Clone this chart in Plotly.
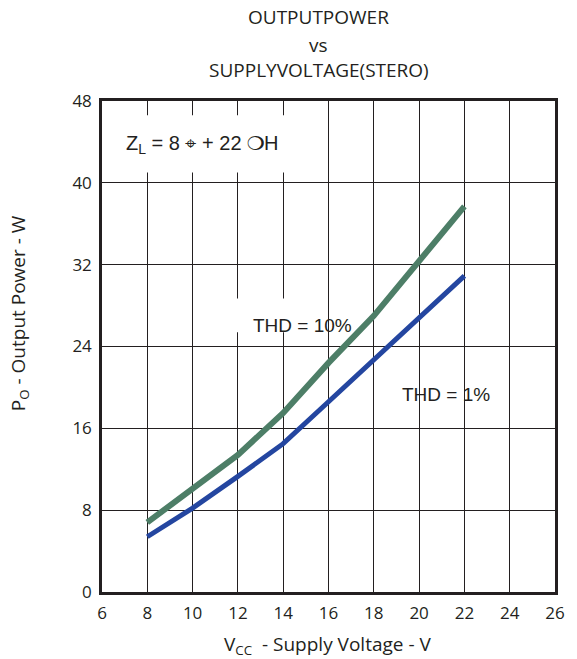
import plotly.graph_objects as go

# supply voltage (V) and output power (W)
vcc = [8, 10, 12, 14, 16, 18, 20, 22]
po_thd10 = [6.8, 10.1, 13.4, 17.5, 22.4, 27.0, 32.3, 37.7]
po_thd1 = [5.4, 8.2, 11.3, 14.5, 18.6, 22.7, 26.8, 30.9]

x_ticks = [6, 8, 10, 12, 14, 16, 18, 20, 22, 24, 26]
y_ticks = [0, 8, 16, 24, 32, 40, 48]

INK = "#231f20"

fig = go.Figure()

fig.add_trace(go.Scatter(
    x=vcc, y=po_thd10, mode="lines",
    line=dict(color="#4d7e67", width=6),
    name="THD = 10%"
))
fig.add_trace(go.Scatter(
    x=vcc, y=po_thd1, mode="lines",
    line=dict(color="#2446a0", width=5),
    name="THD = 1%"
))

# white label boxes sitting over the grid
fig.add_shape(type="rect", x0=6.6, x1=14.3, y0=41.0, y1=46.6,
              fillcolor="white", line=dict(width=0), layer="between")
fig.add_shape(type="rect", x0=10.2, x1=15.7, y0=25.4, y1=28.7,
              fillcolor="white", line=dict(width=0), layer="between")

label_font = dict(family="Liberation Sans, Arial", size=19, color=INK)
fig.add_annotation(x=10.45, y=43.7, text="Z<sub>L</sub> = 8 ⌖ + 22 ❍H",
                   showarrow=False, font=dict(label_font, size=20))
fig.add_annotation(x=14.85, y=26.1, text="THD = 10%",
                   showarrow=False, font=label_font)
fig.add_annotation(x=21.2, y=19.3, text="THD = 1%",
                   showarrow=False, font=label_font)

# title, three lines
title_font = dict(family="Open Sans", size=19, color=INK)
for txt, yy in [("OUTPUTPOWER", 1.171), ("vs", 1.114), ("SUPPLYVOLTAGE(STERO)", 1.063)]:
    fig.add_annotation(x=0.479, y=yy, xref="paper", yref="paper", text=txt,
                       xanchor="center", yanchor="middle",
                       showarrow=False, font=title_font)

tick_font = dict(family="Open Sans", size=17, color=INK)
axis_font = dict(family="Open Sans", size=19, color=INK)
fig.add_annotation(x=-0.183, y=0.568, xref="paper", yref="paper",
                   text="P<sub>O</sub> - Output Power - W", textangle=-90,
                   xanchor="center", yanchor="middle",
                   showarrow=False, font=axis_font)
fig.add_annotation(x=0.497, y=-0.108, xref="paper", yref="paper",
                   text="V<sub>CC</sub>  - Supply Voltage - V",
                   xanchor="center", yanchor="middle",
                   showarrow=False, font=axis_font)

fig.update_xaxes(
    range=[6, 26], tickvals=x_ticks, showgrid=True, gridcolor=INK, gridwidth=1,
    showline=True, mirror=True, linecolor=INK, linewidth=2.5, zeroline=False,
    tickfont=tick_font, ticks="", ticklabelstandoff=4
)
fig.update_yaxes(
    range=[0, 48], tickvals=y_ticks, showgrid=True, gridcolor=INK, gridwidth=1,
    showline=True, mirror=True, linecolor=INK, linewidth=2.5, zeroline=False,
    tickfont=tick_font, ticks="", ticklabelstandoff=4
)

fig.update_layout(
    width=577, height=659,
    margin=dict(l=102, r=16, t=101, b=67),
    plot_bgcolor="white", paper_bgcolor="white",
    showlegend=False,
)

# drop the default page margin so the figure fills the window exactly
fig.write_html("out.html", config={"displayModeBar": False},
               post_script="document.body.style.margin = '0';")
